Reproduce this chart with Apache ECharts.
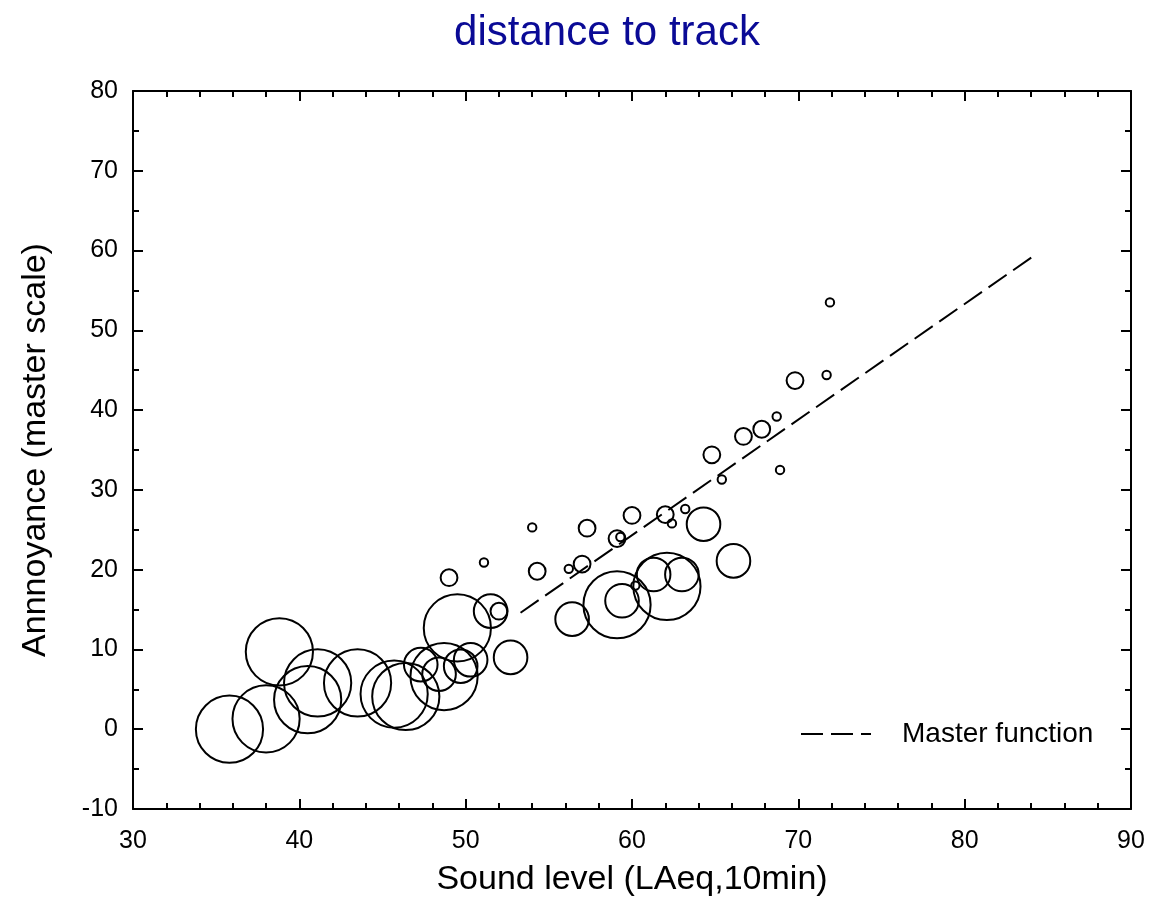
<!DOCTYPE html>
<html>
<head>
<meta charset="utf-8">
<script src="https://cdn.jsdelivr.net/npm/echarts@6/dist/echarts.min.js"></script>
<style>html,body{margin:0;padding:0;background:#fff}#c{width:1153px;height:918px}</style>
</head>
<body>
<div id="c"></div>
<script>
// Sound level (LAeq,10min)
const soundLevel = [35.8, 38.0, 38.8, 40.5, 41.1, 43.5, 45.7, 46.4, 47.3, 48.4, 48.7, 49.7, 50.3, 49.5, 51.5, 52.0, 52.7, 49.0, 51.1, 54.3, 54.0, 56.2, 57.0, 57.3, 59.1, 59.3, 60.0, 62.0, 62.4, 63.2, 64.3, 56.4, 59.1, 59.4, 60.2, 61.3, 62.1, 63.0, 66.1, 64.8, 65.4, 66.7, 67.8, 68.7, 68.9, 69.8, 71.7, 71.9];
// Annoyance (master scale)
const annoyance = [0.0, 1.3, 9.7, 3.7, 5.8, 5.8, 4.4, 4.1, 8.1, 6.9, 6.6, 7.9, 8.7, 12.7, 14.8, 14.8, 9.0, 19.0, 20.9, 19.8, 25.3, 20.1, 20.7, 25.2, 23.9, 24.1, 26.8, 26.9, 25.8, 27.6, 25.7, 13.8, 15.6, 16.1, 18.0, 19.4, 17.9, 19.4, 21.1, 34.4, 31.3, 36.7, 37.6, 39.2, 32.5, 43.7, 44.4, 53.5];
// relative weight (bubble size class)
const weight = [8, 8, 8, 8, 8, 8, 8, 8, 4, 4, 8, 4, 4, 8, 4, 2, 4, 2, 1, 2, 1, 1, 2, 2, 2, 1, 2, 2, 1, 1, 4, 4, 8, 4, 1, 4, 8, 4, 4, 2, 1, 2, 2, 1, 1, 2, 1, 1];
// Master function end points
const masterX = [53.3, 84.2];
const masterY = [14.6, 59.4];
const xTicks = [30, 40, 50, 60, 70, 80, 90];
const yTicks = [-10, 0, 10, 20, 30, 40, 50, 60, 70, 80];

const bubbles = soundLevel.map((x, i) => [x, annoyance[i], weight[i]]);
const master = masterX.map((x, i) => [x, masterY[i]]);

const FONT = 'Liberation Sans, Arial, sans-serif';
const axisCommon = {
  axisLine: { show: true, onZero: false, lineStyle: { color: '#000', width: 2 } },
  axisTick: { show: true, inside: true, length: 10, lineStyle: { color: '#000', width: 2 } },
  minorTick: { show: true, length: 6, lineStyle: { color: '#000', width: 2 } },
  splitLine: { show: false }
};
const chart = echarts.init(document.getElementById('c'));
chart.setOption({
  animation: false,
  backgroundColor: '#fff',
  title: {
    text: 'distance to track', left: 602, top: 7, textAlign: 'center',
    textStyle: { color: '#0a0a96', fontFamily: FONT, fontWeight: 'normal', fontSize: 42 }
  },
  grid: { left: 133, right: 22, top: 91, bottom: 109 },
  legend: {
    data: ['Master function'], left: 795, top: 715, itemWidth: 70, itemHeight: 14,
    itemStyle: { opacity: 0 },
    textStyle: { fontFamily: FONT, fontSize: 28, color: '#000', padding: [0, 0, 0, 26] }
  },
  xAxis: [
    Object.assign({}, axisCommon, {
      type: 'value', min: xTicks[0], max: xTicks[xTicks.length - 1], interval: 10,
      minorTick: Object.assign({}, axisCommon.minorTick, { splitNumber: 5 }),
      name: 'Sound level (LAeq,10min)', nameLocation: 'middle', nameGap: 54,
      nameTextStyle: { fontFamily: FONT, fontSize: 34, color: '#000' },
      axisLabel: { fontFamily: FONT, fontSize: 25, color: '#000', margin: 20 }
    }),
    Object.assign({}, axisCommon, {
      type: 'value', position: 'top', min: xTicks[0], max: xTicks[xTicks.length - 1], interval: 10,
      minorTick: Object.assign({}, axisCommon.minorTick, { splitNumber: 5 }),
      axisLabel: { show: false }
    })
  ],
  yAxis: [
    Object.assign({}, axisCommon, {
      type: 'value', min: yTicks[0], max: yTicks[yTicks.length - 1], interval: 10,
      minorTick: Object.assign({}, axisCommon.minorTick, { splitNumber: 2 }),
      name: 'Annnoyance (master scale)', nameLocation: 'middle', nameGap: 80,
      nameTextStyle: { fontFamily: FONT, fontSize: 34, color: '#000' },
      axisLabel: { fontFamily: FONT, fontSize: 25, color: '#000', margin: 15 }
    }),
    Object.assign({}, axisCommon, {
      type: 'value', position: 'right', min: yTicks[0], max: yTicks[yTicks.length - 1], interval: 10,
      minorTick: Object.assign({}, axisCommon.minorTick, { splitNumber: 2 }),
      axisLabel: { show: false }
    })
  ],
  series: [
    {
      name: 'data', type: 'scatter', data: bubbles, symbol: 'circle',
      symbolSize: d => 8.4 * d[2],
      itemStyle: { color: 'rgba(0,0,0,0)', borderColor: '#000', borderWidth: 2, opacity: 1 },
      emphasis: { disabled: true }
    },
    {
      name: 'Master function', type: 'line', data: master, symbol: 'none',
      itemStyle: { color: '#000' },
      lineStyle: { color: '#000', width: 2, type: [22, 8] }
    }
  ]
});
</script>
</body>
</html>
